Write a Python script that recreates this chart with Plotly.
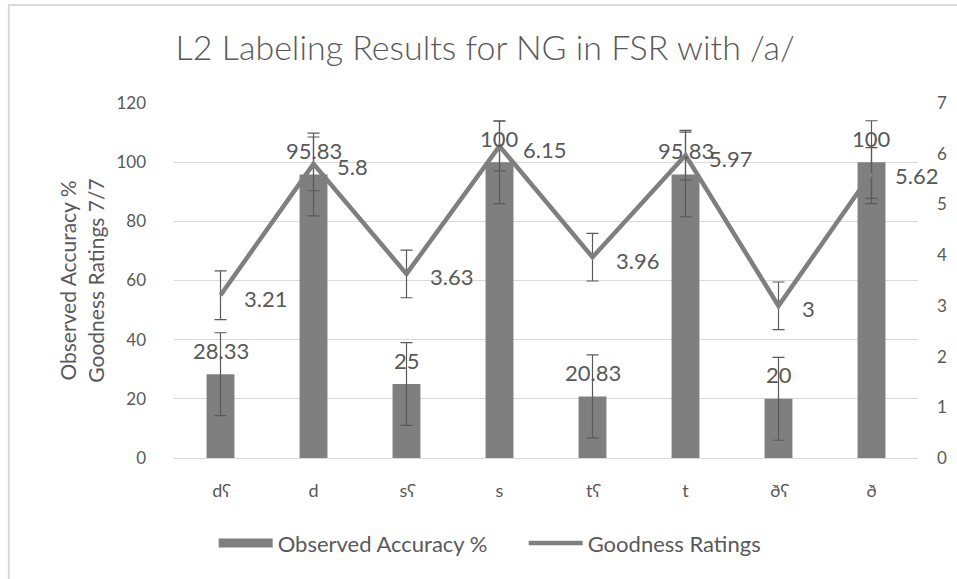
import plotly.graph_objects as go

categories = ["dʕ", "d", "sʕ", "s", "tʕ", "t", "ðʕ", "ð"]
accuracy = [28.33, 95.83, 25, 100, 20.83, 95.83, 20, 100]
accuracy_err = [14, 14, 14, 14, 14, 14.3, 14, 14]
goodness = [3.21, 5.8, 3.63, 6.15, 3.96, 5.97, 3, 5.62]
goodness_err = [0.48, 0.53, 0.47, 0.49, 0.47, 0.49, 0.47, 0.5]
left_ticks = [0, 20, 40, 60, 80, 100, 120]
right_ticks = [0, 1, 2, 3, 4, 5, 6, 7]

FONT = "Lato"
TXT = "#595959"
GRAY = "#7f7f7f"
ERR = "#5a5a5a"

fig = go.Figure()
fig.add_trace(go.Bar(
    x=categories, y=accuracy, name="Observed Accuracy %",
    marker=dict(color=GRAY, line=dict(width=0)),
    error_y=dict(type="data", array=accuracy_err, visible=True,
                 color=ERR, thickness=1.2, width=6),
    showlegend=False,
))
# legend swatch for bars (wide rectangle like original)
fig.add_trace(go.Scatter(
    x=[None], y=[None], mode="lines", name="Observed Accuracy %",
    line=dict(color=GRAY, width=9), showlegend=True,
))
fig.add_trace(go.Scatter(
    x=categories, y=goodness, name="Goodness Ratings", yaxis="y2",
    mode="lines", line=dict(color=GRAY, width=4.5),
    error_y=dict(type="data", array=goodness_err, visible=True,
                 color=ERR, thickness=1.2, width=6),
))

annotations = []
for c, v in zip(categories, accuracy):
    annotations.append(dict(x=c, y=v, xref="x", yref="y", text=f"{v:g}",
                            showarrow=False, yshift=24,
                            font=dict(family=FONT, size=22, color=TXT)))
for c, v in zip(categories, goodness):
    annotations.append(dict(x=c, y=v, xref="x", yref="y2", text=f"{v:g}",
                            showarrow=False, xanchor="left", xshift=21, yshift=-3,
                            font=dict(family=FONT, size=22, color=TXT)))

fig.update_layout(
    width=957, height=579,
    margin=dict(l=174, r=39, t=103, b=121, autoexpand=False),
    paper_bgcolor="white", plot_bgcolor="white",
    font=dict(family=FONT, color=TXT, size=18),
    title=dict(text="L2 Labeling Results for NG in FSR with /a/",
               x=0.507, xanchor="center", y=0.917, yanchor="middle",
               font=dict(family=FONT, size=34, color=TXT, weight=300)),
    bargap=0.70,
    xaxis=dict(type="category", range=[-0.5, len(categories) - 0.5],
               showgrid=False, showline=True,
               linecolor="#d9d9d9", linewidth=1, ticks="", automargin=False,
               tickfont=dict(family=FONT, size=18, color=TXT),
               ticklabelstandoff=16),
    yaxis=dict(range=[0, 120], tickvals=left_ticks, showgrid=True,
               gridcolor="#d9d9d9", gridwidth=1, zeroline=False,
               showline=False, ticks="", automargin=False,
               tickfont=dict(family=FONT, size=17, color=TXT),
               ticklabelstandoff=27,
               title=dict(text="Observed Accuracy %<br>Goodness Ratings 7/7",
                          font=dict(family=FONT, size=21, color=TXT),
                          standoff=6)),
    yaxis2=dict(range=[0, 7], tickvals=right_ticks, overlaying="y",
                side="right", showgrid=False, zeroline=False,
                showline=False, ticks="", automargin=False,
                tickfont=dict(family=FONT, size=17, color=TXT),
                ticklabelstandoff=18),
    legend=dict(orientation="h", x=0.47, xanchor="center",
                y=-0.24, yanchor="middle",
                font=dict(family=FONT, size=22, color=TXT),
                itemwidth=54, entrywidth=241, entrywidthmode="pixels",
                bgcolor="rgba(0,0,0,0)"),
    annotations=annotations,
    shapes=[dict(type="rect", xref="paper", yref="paper",
                 x0=-0.222, x1=1.3, y0=-1.0, y1=1.276,
                 line=dict(color="#d9d9d9", width=2), layer="below")],
)

fig.write_html(
    "out.html",
    config={"displayModeBar": False},
    post_script="document.body.style.margin='0';document.body.style.overflow='hidden';",
)
